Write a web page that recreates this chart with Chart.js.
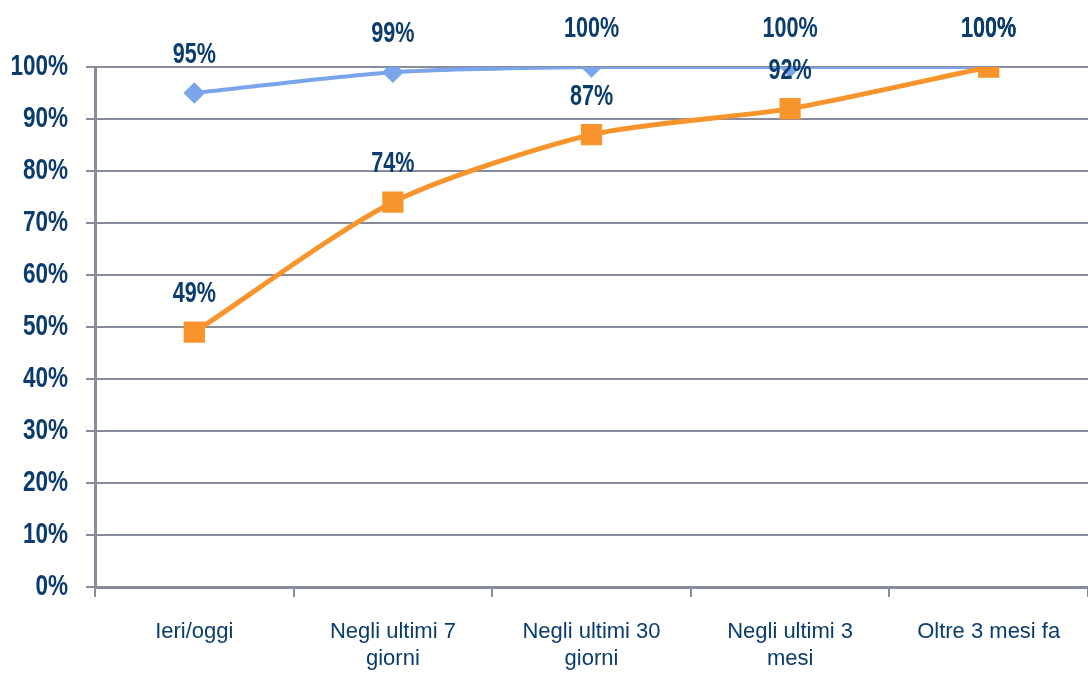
<!DOCTYPE html>
<html>
<head>
<meta charset="utf-8">
<script src="https://cdn.jsdelivr.net/npm/chart.js@4"></script>
<style>
    body { margin: 0; background: #fff; }
    #wrap { width: 1088px; height: 677px; }
</style>
</head>
<body>
<div id="wrap"><canvas id="lineChart" width="1088" height="677"></canvas></div>
<script>
const categories = [
    "Ieri/oggi",
    ["Negli ultimi 7", "giorni"],
    ["Negli ultimi 30", "giorni"],
    ["Negli ultimi 3", "mesi"],
    "Oltre 3 mesi fa"
];
const blueValues = [95, 99, 100, 100, 100];
const orangeValues = [49, 74, 87, 92, 100];
const yTicks = [0, 10, 20, 30, 40, 50, 60, 70, 80, 90, 100];

const FONT = "'Liberation Sans', Arial, sans-serif";
const TEXT = "#0b3c6e";
const GRID = "#878c9c";

// narrow-looking text: squeeze horizontally
function narrowText(ctx, txt, x, y, squeeze) {
    ctx.save();
    ctx.translate(x, y);
    ctx.scale(squeeze, 1);
    ctx.fillText(txt, 0, 0);
    ctx.restore();
}

// y tick labels + value labels above each point
const textLayer = {
    id: "textLayer",
    afterDraw(chart) {
        const ctx = chart.ctx;
        const y = chart.scales.y;
        ctx.save();
        ctx.font = "bold 30px " + FONT;
        ctx.fillStyle = TEXT;
        ctx.textBaseline = "middle";

        ctx.textAlign = "right";
        yTicks.forEach(v => {
            narrowText(ctx, v + "%", y.left + 68, y.getPixelForValue(v), 0.75);
        });

        ctx.textAlign = "center";
        chart.data.datasets.forEach((ds, i) => {
            chart.getDatasetMeta(i).data.forEach((pt, j) => {
                narrowText(ctx, ds.data[j] + "%", pt.x, pt.y - 38, 0.72);
            });
        });
        ctx.restore();
    }
};

new Chart(document.getElementById("lineChart"), {
    type: "line",
    data: {
        labels: categories,
        datasets: [{
            data: blueValues,
            borderColor: "#7ba5ea",
            backgroundColor: "#7ba5ea",
            borderWidth: 4,
            pointStyle: "rectRot",
            pointRadius: 8,
            pointHoverRadius: 8,
            tension: 0.25,
            order: 2
        }, {
            data: orangeValues,
            borderColor: "#f7952c",
            backgroundColor: "#f7952c",
            borderWidth: 5,
            pointStyle: "rect",
            pointRadius: 11.5,
            pointHoverRadius: 11.5,
            tension: 0.25,
            order: 1
        }]
    },
    options: {
        responsive: false,
        animation: false,
        layout: { autoPadding: false, padding: { top: 67, right: 0, left: 0, bottom: 0 } },
        plugins: { legend: { display: false }, tooltip: { enabled: false } },
        scales: {
            x: {
                offset: true,
                afterFit: s => { s.height = 90; },
                grid: { offset: true, drawOnChartArea: false, drawTicks: true, tickLength: 10, color: GRID, lineWidth: 2 },
                border: { display: true, color: GRID, width: 3 },
                ticks: {
                    color: TEXT,
                    padding: 21,
                    maxRotation: 0,
                    autoSkip: false,
                    font: { family: FONT, size: 22, lineHeight: 1.25 }
                }
            },
            y: {
                min: 0,
                max: 100,
                afterFit: s => { s.width = 95; },
                afterBuildTicks: s => { s.ticks = yTicks.map(v => ({ value: v })); },
                grid: { color: GRID, lineWidth: 2, tickLength: 9 },
                border: { display: true, color: GRID, width: 3 },
                ticks: { display: false }
            }
        }
    },
    plugins: [textLayer]
});
</script>
</body>
</html>
